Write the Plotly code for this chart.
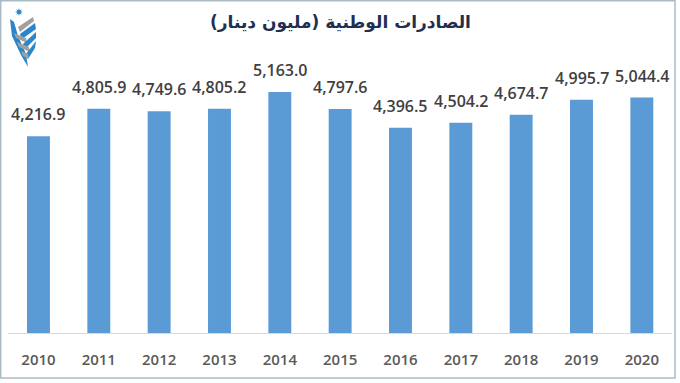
import plotly.graph_objects as go
import math

years = ["2010", "2011", "2012", "2013", "2014", "2015", "2016", "2017", "2018", "2019", "2020"]
exports = [4216.9, 4805.9, 4749.6, 4805.2, 5163.0, 4797.6, 4396.5, 4504.2, 4674.7, 4995.7, 5044.4]
title_text = "الصادرات الوطنية (مليون دينار)"

W, H = 680, 383

def px(x):
    return x / W

def py(y):
    return 1 - y / H

def path(points):
    return "M " + " L ".join(f"{px(a):.4f},{py(b):.4f}" for a, b in points) + " Z"

fig = go.Figure()
fig.add_trace(go.Bar(
    x=years, y=exports, marker=dict(color="#5b9bd5", line=dict(width=0)),
    hoverinfo="x+y",
))

annotations = []
for i, v in enumerate(exports):
    annotations.append(dict(
        x=i, y=v, xref="x", yref="y", text=f"{v:,.1f}", showarrow=False,
        yanchor="bottom", yshift=9,
        font=dict(family="Open Sans", size=16, color="#404040", weight=600),
    ))
annotations.append(dict(
    x=px(340), y=py(23), xref="paper", yref="paper", text=title_text, showarrow=False,
    xanchor="center", yanchor="middle",
    font=dict(family="DejaVu Sans", size=17, color="#1f2f4f", weight="bold"),
))

shapes = [
    dict(type="rect", xref="paper", yref="paper", x0=px(0.7), x1=px(675), y0=py(0.7), y1=py(378),
         line=dict(color="#a9bcc6", width=1.5), layer="above"),
]
# logo (approximate emblem)
blue = "#2a86cc"
gray = "#a0a0a0"
logo_parts = [
    ([(10, 19), (14, 22), (18, 36), (26, 54), (28, 67), (21, 55), (12, 36)], blue),
    ([(18, 27), (33, 17), (34, 21), (20, 32)], gray),
    ([(20, 34), (35, 23), (36, 29), (22, 39)], blue),
    ([(14, 33), (26, 38), (27, 43), (16, 38)], gray),
    ([(23, 44), (36, 32), (36, 38), (25, 49)], blue),
    ([(17, 42), (29, 47), (30, 52), (19, 47)], gray),
    ([(26, 54), (36, 41), (35, 48), (28, 59)], blue),
    ([(21, 51), (28, 54), (29, 59), (23, 56)], gray),
]
for pts, col in logo_parts:
    shapes.append(dict(type="path", xref="paper", yref="paper", path=path(pts),
                       fillcolor=col, line=dict(width=0)))
star = []
for k in range(16):
    r = 4.0 if k % 2 == 0 else 1.8
    a = math.pi / 2 + k * math.pi / 8
    star.append((19 + r * math.cos(a), 12 - r * math.sin(a)))
shapes.append(dict(type="path", xref="paper", yref="paper", path=path(star),
                   fillcolor=blue, line=dict(width=0)))

fig.update_layout(
    width=W, height=H,
    margin=dict(l=0, r=0, t=0, b=0),
    paper_bgcolor="white", plot_bgcolor="white",
    bargap=0.62,
    showlegend=False,
    xaxis=dict(
        domain=[px(8.3), px(672)], type="category",
        range=[-0.5, len(years) - 0.5], autorange=False,
        showline=True, linecolor="#d9d9d9", linewidth=1,
        showgrid=False, ticks="", ticklabelstandoff=13,
        tickfont=dict(family="Open Sans", size=15, color="#595959", weight=600),
        fixedrange=True,
    ),
    yaxis=dict(
        domain=[py(333), py(60)], range=[0, 5848], autorange=False,
        showgrid=False, showticklabels=False, zeroline=False, showline=False,
        fixedrange=True,
    ),
    annotations=annotations,
    shapes=shapes,
)

fig.write_html("out.html", config={"displayModeBar": False},
               post_script="document.body.style.margin='0';")
